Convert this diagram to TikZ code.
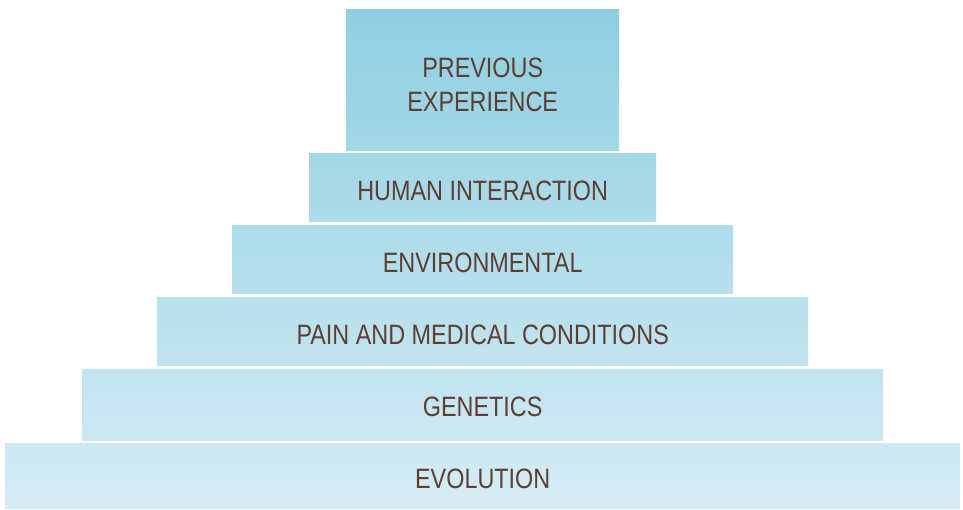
\documentclass[tikz,border=0pt]{standalone}
\usepackage{fontspec}
\setmainfont{Liberation Sans}[FakeStretch=0.835]
\usetikzlibrary{positioning}

\definecolor{pyrtop}{RGB}{143,207,225}
\definecolor{pyrbot}{RGB}{214,236,245}
\definecolor{labelbrown}{RGB}{92,62,50}

\begin{document}
\begin{tikzpicture}[x=1pt,y=1pt,
    tier/.style={inner sep=0pt,anchor=south west},
    tiertext/.style={align=center,text=labelbrown,
        font=\fontsize{28}{34}\selectfont}]
    \useasboundingbox (0,0) rectangle (963,509);

    % tiers of the pyramid, from top to bottom
    \foreach \name/\x/\y/\w/\h/\ct/\cb/\dy/\txt in {
            prevexp/346/358/273/141/100/72/5/{PREVIOUS\\EXPERIENCE},
            humint/309/287/347/68/71/58/3/{HUMAN INTERACTION},
            environ/232/215/501/68/57/43/3/{ENVIRONMENTAL},
            pain/157/143/651/68/42/29/3/{PAIN AND MEDICAL CONDITIONS},
            genetics/82/68/801/71/28/14/2/{GENETICS},
            evolution/5/0/955/65/13/0/3/{EVOLUTION}}{
        \node[tier,top color=pyrtop!\ct!pyrbot,bottom color=pyrtop!\cb!pyrbot,
            minimum width=\w pt,minimum height=\h pt] (\name) at (\x,\y) {};
        \node[tiertext,yshift=-\dy pt] (\name-text) at (\name.center) {\txt};
    }
\end{tikzpicture}
\end{document}
